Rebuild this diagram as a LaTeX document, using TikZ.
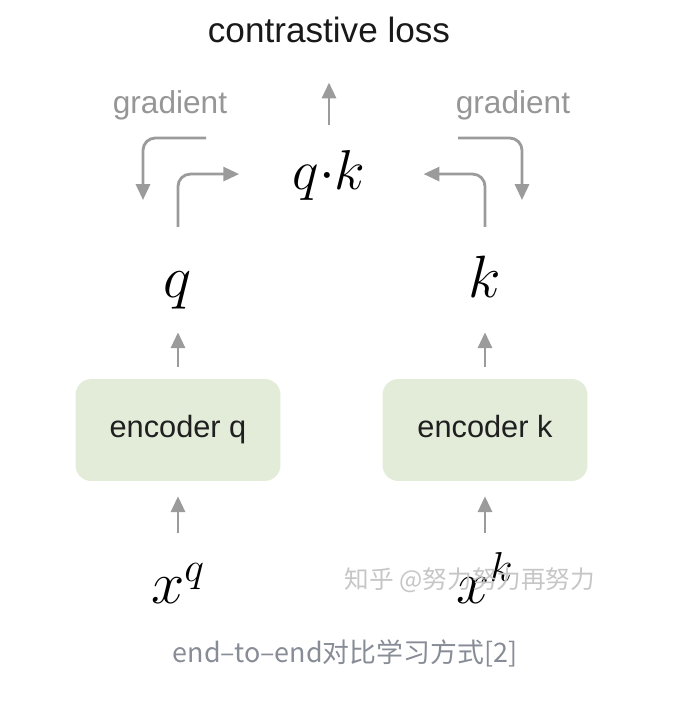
\RequirePackage{fix-cm}
\documentclass[tikz,border=0pt]{standalone}
\usepackage{fontspec}
\setmainfont{Liberation Sans}
\newfontfamily\cjk{Noto Sans CJK SC}
\definecolor{arrowgray}{RGB}{155,155,155}
\definecolor{gradgray}{RGB}{150,150,150}
\definecolor{encgreen}{RGB}{227,236,216}
\definecolor{captiongray}{RGB}{135,140,150}
\usetikzlibrary{arrows.meta, positioning}

\begin{document}
\begin{tikzpicture}[x=0.02cm, y=-0.02cm,
    encbox/.style={fill=encgreen, rounded corners=9pt, minimum width=4.1cm,
                   minimum height=2.04cm, text height=12pt, text depth=3.5pt,
                   font=\fontsize{17.5}{20}\selectfont, text=black!88},
    mathlbl/.style={inner sep=0pt, anchor=base, text height=24pt,
                    text depth=7pt, font=\fontsize{#1}{40}\selectfont},
    arr/.style={-{Triangle[length=9pt,width=8pt]}, line width=1.6pt, arrowgray},
    bent/.style={arr, rounded corners=7pt},
    gradlbl/.style={anchor=base, inner sep=0pt, text=gradgray,
                    font=\fontsize{18}{22}\selectfont}
  ]
    \useasboundingbox (0,0) rectangle (687,714);

    \node[anchor=base, inner sep=0pt, text=black!90,
          font=\fontsize{20}{24}\selectfont] (loss) at (329,42) {contrastive loss};
    \node[mathlbl=32] (qk) at (329,189) {$q{\cdot}k$};
    \node[gradlbl] (gradq) at (170,113) {gradient};
    \node[gradlbl] (gradk) at (513,113) {gradient};

    \node[mathlbl=34] (q) at (178,297) {$q$};
    \node[mathlbl=34] (k) at (485,297) {$k$};
    \node[encbox] (encq) at (178,430) {encoder q};
    \node[encbox] (enck) at (485,430) {encoder k};
    \node[mathlbl=34] (xq) at (178,603) {$x^q$};
    \node[mathlbl=34] (xk) at (485,603) {$x^k$};

    \draw[arr, shorten <=15.9pt, shorten >=8.5pt] (xq) -- (encq);
    \draw[arr, shorten <=15.9pt, shorten >=8.5pt] (xk) -- (enck);
    \draw[arr, shorten <=6.8pt, shorten >=12.9pt] (encq) -- (q);
    \draw[arr, shorten <=6.8pt, shorten >=12.9pt] (enck) -- (k);
    \draw[arr, shorten <=12.3pt, shorten >=22.7pt] (qk) -- (loss);

    \draw[bent, shorten <=15.7pt, shorten >=30.3pt] (q.north) |- (qk.west);
    \draw[bent, shorten <=15.7pt, shorten >=33pt] (k.north) |- (qk.east);

    \coordinate (gqs) at (206,138);
    \coordinate (gqe) at (143,200);
    \coordinate (gks) at (458,138);
    \coordinate (gke) at (522,200);
    \draw[bent] (gqs) -| (gqe);
    \draw[bent] (gks) -| (gke);

    \node[text=gray!45, font=\cjk\fontsize{14}{16}\selectfont] (wm) at (470,580)
      {知乎 @努力努力再努力};
    \node[anchor=base, inner sep=0pt, text=captiongray,
          font=\cjk\fontsize{15.3}{18}\selectfont] (cap) at (345,662)
      {end–to–end对比学习方式[2]};
  \end{tikzpicture}
\end{document}
